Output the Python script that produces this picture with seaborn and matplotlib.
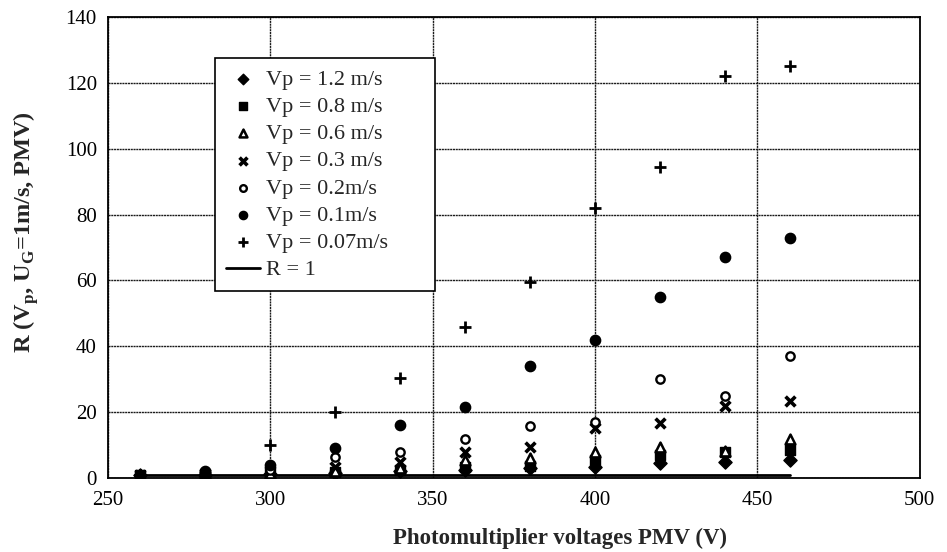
import matplotlib
matplotlib.use("Agg")
import matplotlib.pyplot as plt
import seaborn as sns
import pandas as pd

pmv = [260, 280, 300, 320, 340, 360, 380, 400, 420, 440, 460]
r_v12 = [0.8, 1.0, 1.2, 1.5, 2.0, 2.5, 3.0, 3.3, 4.5, 4.8, 5.5]
r_v08 = [0.9, 1.1, 1.4, 1.8, 2.5, 3.3, 3.8, 5.5, 7.0, 7.9, 8.5]
r_v06 = [0.9, 1.2, 1.6, 2.2, 3.0, 5.5, 6.0, 7.9, 9.4, 8.3, 11.8]
r_v03 = [1.0, 1.3, 2.0, 3.3, 4.8, 7.9, 9.4, 15.2, 16.7, 22.0, 23.5]
r_v02 = [1.0, 1.4, 2.5, 6.4, 7.9, 11.8, 15.8, 17.0, 30.0, 25.0, 37.0]
r_v01 = [1.0, 2.0, 4.0, 9.1, 16.0, 21.5, 34.0, 42.0, 55.0, 67.0, 73.0]
r_v007 = [1.0, 1.5, 10.0, 20.0, 30.5, 46.0, 59.5, 82.0, 94.5, 122.0, 125.0]
r_ref = [1, 1]
r_ref_x = [260, 460]

labels = ["Vp = 1.2 m/s", "Vp = 0.8 m/s", "Vp = 0.6 m/s", "Vp = 0.3 m/s",
          "Vp = 0.2m/s", "Vp = 0.1m/s", "Vp = 0.07m/s", "R = 1"]
x_ticks = [250, 300, 350, 400, 450, 500]
y_ticks = [0, 20, 40, 60, 80, 100, 120, 140]

sns.set_style("white")
plt.rcParams["font.family"] = ["Liberation Serif", "DejaVu Serif"]
plt.rcParams["mathtext.fontset"] = "custom"
plt.rcParams["mathtext.rm"] = "Liberation Serif"
plt.rcParams["mathtext.bf"] = "Liberation Serif:bold"

fig = plt.figure(figsize=(9.47, 5.52), dpi=100)
ax = fig.add_axes([0.114, 0.134, 0.857, 0.835])

series = [
    (r_v12, "D", "black", "black", 1.0, 45),
    (r_v08, "s", "black", "black", 1.0, 42),
    (r_v06, "^", "white", "black", 1.8, 50),
    (r_v03, "x", "black", "black", 2.6, 50),
    (r_v02, "o", "white", "black", 1.7, 36),
    (r_v01, "o", "black", "black", 1.0, 55),
    (r_v007, "+", "black", "black", 2.0, 70),
]

for (vals, mk, fc, ec, lw, s), lab in zip(series, labels[:7]):
    df = pd.DataFrame({"PMV": pmv, "R": vals})
    if mk in ("x", "+"):
        sns.scatterplot(data=df, x="PMV", y="R", marker=mk, color=fc,
                        linewidth=lw, s=s, ax=ax, label=lab, zorder=3)
    else:
        sns.scatterplot(data=df, x="PMV", y="R", marker=mk, color=fc,
                        edgecolor=ec, linewidth=lw, s=s, ax=ax, label=lab, zorder=3)

sns.lineplot(x=r_ref_x, y=r_ref, color="black", linewidth=2.0, ax=ax,
             label=labels[7], zorder=2)

ax.set_xlim(250, 500)
ax.set_ylim(0, 140)
ax.set_xticks(x_ticks)
ax.set_yticks(y_ticks)
ax.grid(True, color="#1a1a1a", linewidth=1.0, linestyle=(0, (1.5, 0.5)))
ax.set_axisbelow(True)
for sp in ax.spines.values():
    sp.set_color("black")
    sp.set_linewidth(1.3)
ax.tick_params(axis="both", direction="out", length=5, width=1, colors="black",
               labelsize=15, pad=3)
ax.tick_params(axis="x", pad=4)

ax.set_xlabel("Photomultiplier voltages PMV (V)", fontsize=16.5, fontweight="bold")
ax.xaxis.set_label_coords(0.557, -0.108)
ax.set_ylabel(r"R (V$_\mathbf{p}$, U$_\mathbf{G}$=1m/s, PMV)", fontsize=17.5,
              fontweight="bold")
ax.yaxis.set_label_coords(-0.083, 0.534)

leg = ax.legend(loc="upper left", bbox_to_anchor=(0.132, 0.399, 0.271, 0.512),
                mode="expand", fontsize=16,
                frameon=True, fancybox=False, shadow=False, borderpad=0.5,
                labelspacing=0.3, handlelength=1.5, handletextpad=0.3,
                borderaxespad=0, markerscale=0.8)
leg.get_frame().set_edgecolor("black")
leg.get_frame().set_linewidth(1.2)
leg.get_frame().set_alpha(1)

fig.savefig("out.png", dpi=100)
